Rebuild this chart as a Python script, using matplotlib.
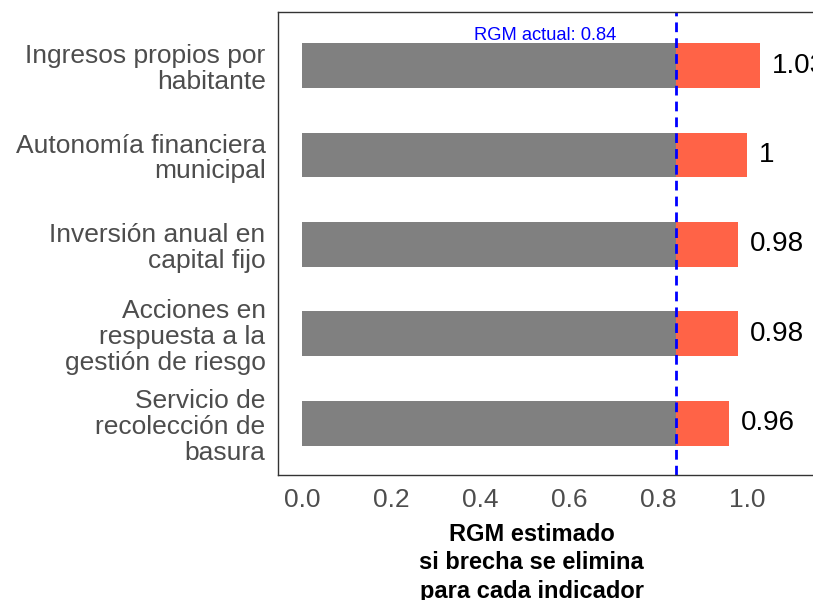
import matplotlib.pyplot as plt

plt.rcParams['font.family'] = ['Liberation Sans', 'DejaVu Sans']

# Indicators and estimated RGM if each gap is closed
indicadores = [
    "Ingresos propios por\nhabitante",
    "Autonomía financiera\nmunicipal",
    "Inversión anual en\ncapital fijo",
    "Acciones en\nrespuesta a la\ngestión de riesgo",
    "Servicio de\nrecolección de\nbasura",
]
rgm_estimado = [1.03, 1.00, 0.98, 0.98, 0.96]
rgm_actual = 0.84
xticks = [0.0, 0.2, 0.4, 0.6, 0.8, 1.0]

fig = plt.figure(figsize=(8.13, 6.0), dpi=100)
fig.patch.set_facecolor('white')
# panel runs past the right edge of the canvas
ax = fig.add_axes([0.342, 0.2083, 0.686, 0.7717])

pos = list(range(len(indicadores)))
ax.barh(pos, [rgm_actual] * len(pos), height=0.5, color='#808080')
ax.barh(pos, [v - rgm_actual for v in rgm_estimado], left=rgm_actual,
        height=0.5, color='#FF6347')

for p, v in zip(pos, rgm_estimado):
    ax.annotate(f"{v:g}", xy=(v, p), xytext=(8.5, 0), textcoords='offset points',
                va='center', ha='left', fontsize=20, color='black')

ax.axvline(rgm_actual, color='#0000FF', linestyle=(0, (3.5, 2.2)), linewidth=2)
ax.text(0.546, -0.34, f"RGM actual: {rgm_actual}", color='#0000FF',
        fontsize=13.2, ha='center', va='center')

ax.set_xlim(-0.054, 1.2)
ax.set_ylim(len(pos) - 0.42, -0.6)
ax.set_xticks(xticks)
ax.set_xticklabels([f"{t:.1f}" for t in xticks])
ax.set_yticks(pos)
ax.set_yticklabels(indicadores, linespacing=1.1)
ax.tick_params(axis='both', length=0, labelsize=19, labelcolor='#4D4D4D')
ax.tick_params(axis='x', pad=9)
ax.tick_params(axis='y', pad=9)

for s in ax.spines.values():
    s.set_linewidth(1.0)
    s.set_color('#333333')

ax.set_xlabel("RGM estimado\nsi brecha se elimina\npara cada indicador",
              fontsize=17, fontweight='bold', linespacing=1.3)
ax.xaxis.set_label_coords(0.455, -0.103)

fig.savefig('out.png', dpi=100)
